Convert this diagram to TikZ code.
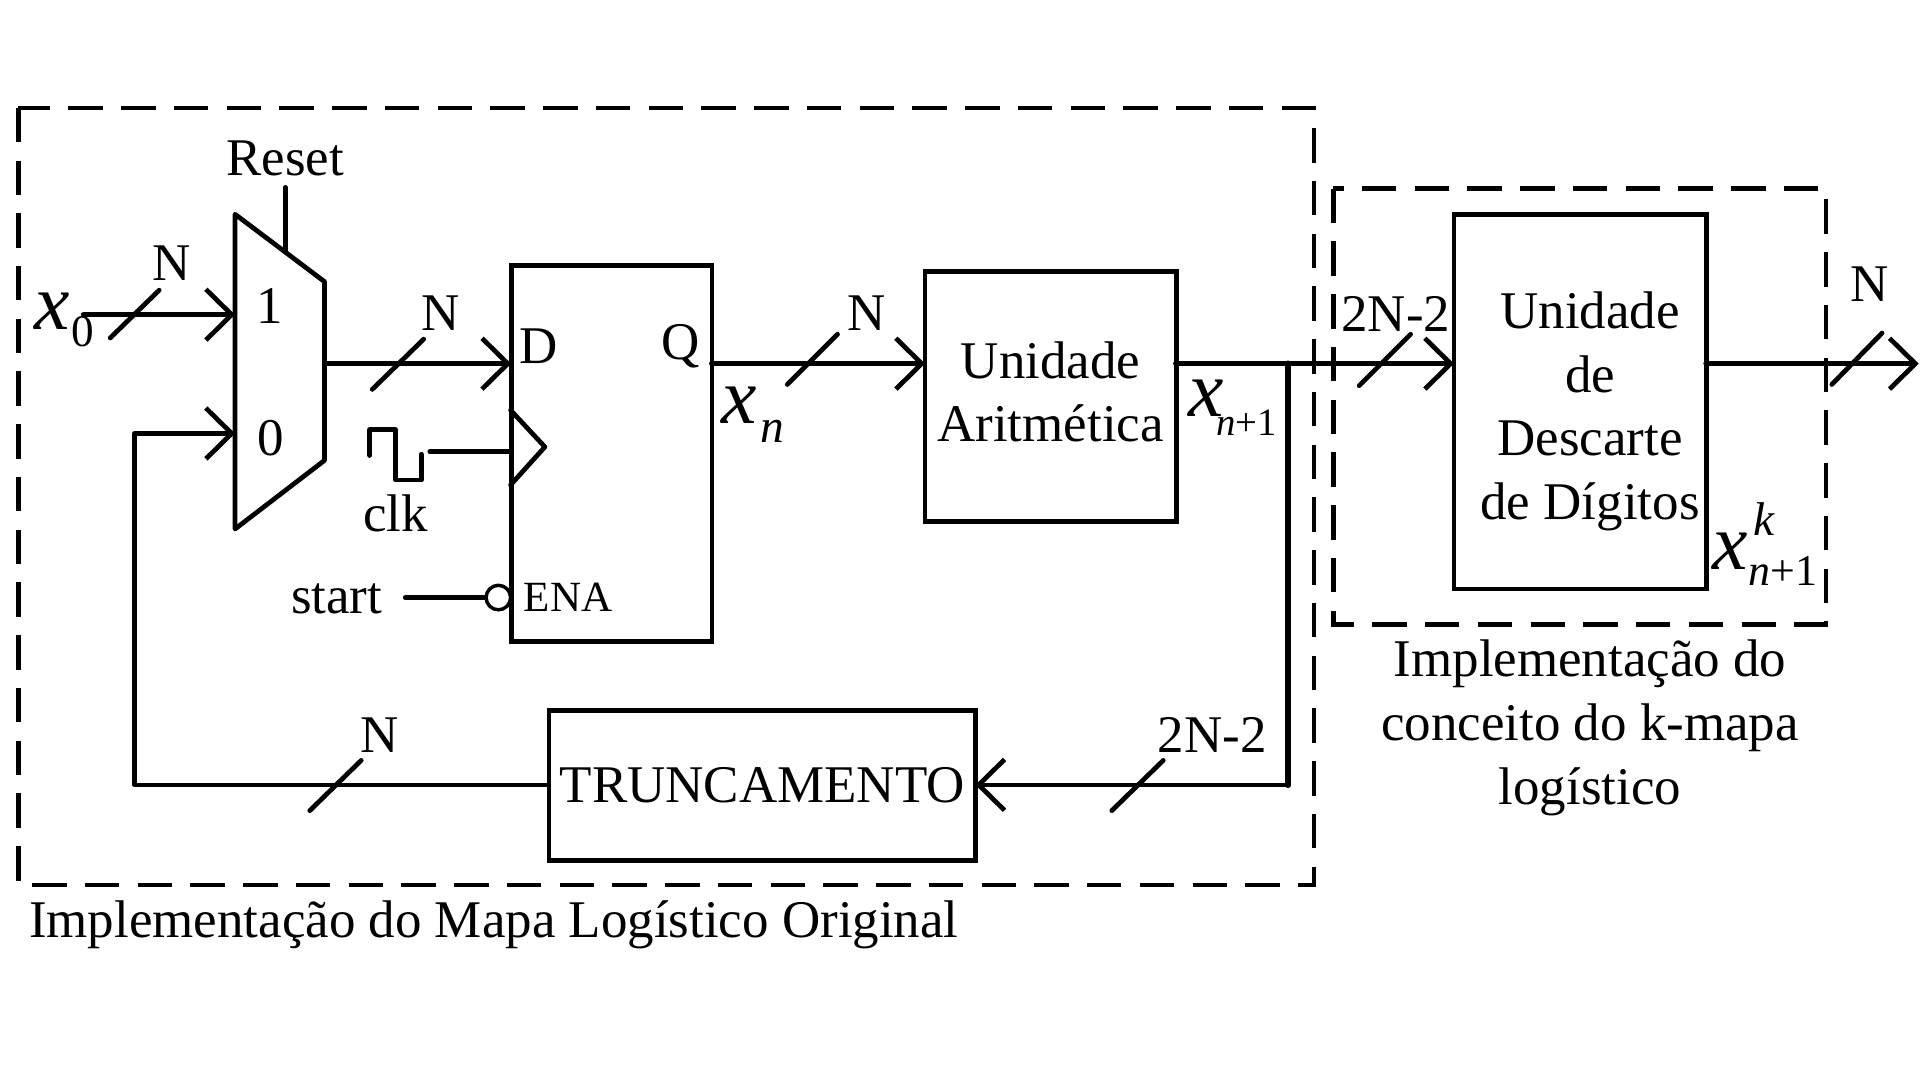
\documentclass[tikz,border=0pt]{standalone}
\usepackage{fontspec}
\setmainfont{Liberation Serif}
\usetikzlibrary{arrows.meta}
\tikzset{
  wire/.style={line width=1.1pt,line cap=round,line join=round},
  bus/.style={wire,-{Straight Barb[length=6pt,width=11.8pt,line width=1.1pt]}},
  frame/.style={line width=1pt,dash pattern=on 8pt off 4.25pt},
  block/.style={draw,line width=1.1pt,inner sep=0pt},
  lbl/.style={inner sep=0pt,font=\fontsize{12.3}{14.8}\selectfont,align=center},
  small/.style={inner sep=0pt,font=\fontsize{10}{12}\selectfont},
  var/.style={inner sep=0pt,font=\fontsize{18.5}{24}\selectfont\itshape},
  idx/.style={inner sep=0pt,font=\fontsize{10.5}{12}\selectfont}
}
\begin{document}
\begin{tikzpicture}[x=0.01cm,y=-0.01cm]
  \useasboundingbox (0,0) rectangle (1568,882);

  % dashed frames
  \draw[frame] (15,88) rectangle (1073,723);
  \draw[frame] (1089,154) rectangle (1491,510);
  \node[lbl,anchor=west] (capa) at (23,755) {Implementação do Mapa Logístico Original};
  \node[lbl] (capb) at (1298.5,594.5) {Implementação do\\conceito do k-mapa\\logístico};

  % blocks
  \node[block,minimum width=1.64cm,minimum height=3.07cm] (ff) at (499.5,370.5) {};
  \node[block,minimum width=2.05cm,minimum height=2.04cm] (ua) at (858,324) {};
  \node[lbl] (uatext) at (858,320) {Unidade\\Aritmética};
  \node[block,minimum width=3.48cm,minimum height=1.23cm] (trunc) at (622.5,641.5) {};
  \node[lbl] (trunctext) at (622.5,641) {TRUNCAMENTO};
  \node[block,minimum width=2.06cm,minimum height=3.06cm] (desc) at (1290.5,328) {};
  \node[lbl] (desctext) at (1298.5,336) {Unidade\\de\\Descarte\\de Dígitos};

  % mux
  \draw[wire] (192,175)--(265,230)--(265,376)--(192,432)--cycle;
  \coordinate (muxrst) at (233,206);
  \coordinate (muxa) at (192,257);
  \coordinate (muxb) at (192,354);
  \coordinate (muxout) at (265,297);
  \node[lbl] (one) at (220,250) {1};
  \node[lbl] (zero) at (221,358) {0};
  \node[lbl] (reset) at (233,129) {Reset};
  \coordinate (rsttop) at (233,153);
  \draw[wire] (rsttop)--(muxrst);

  % flip-flop ports
  \coordinate (ffd) at (417.5,297);
  \coordinate (ffq) at (581,297);
  \coordinate (ffclk) at (417,369);
  \node[lbl] (d) at (440,283) {D};
  \node[lbl] (q) at (556,283) {Q};
  \node[small] (ena) at (464,488) {ENA};
  \draw[wire] (417,335)--(445,365)--(417,396);
  \node[draw,circle,line width=0.8pt,minimum size=0.2cm,inner sep=0pt] (nega) at (407,488) {};

  % clock and start
  \coordinate (clkend) at (351,369);
  \draw[wire] (302,372)--(302,351)--(323,351)--(323,392)--(344,392)--(344,371);
  \draw[wire] (clkend)--(ffclk);
  \node[lbl] (clk) at (323,419) {clk};
  \node[lbl] (start) at (275,489) {start};
  \coordinate (startend) at (331,488);
  \draw[wire] (startend)--(nega.west);

  % input
  \node[var] (x0) at (43,254) {x};
  \node[idx] (x0i) at (68,271) {0};
  \coordinate (x0end) at (68,257);
  \draw[bus] (x0end)--(muxa);
  \draw[wire] (90,276)--(130,237);
  \node[lbl] (n1) at (140,215) {N};

  % forward path
  \draw[bus] (muxout)--(ffd);
  \draw[wire] (304,318)--(346,277);
  \node[lbl] (n2) at (360,256) {N};

  \coordinate (uain) at (755.5,297);
  \draw[bus] (ffq)--(uain);
  \draw[wire] (643,314)--(684,273);
  \node[lbl] (n3) at (708,256) {N};
  \node[var] (xn) at (604,331) {x};
  \node[idx,font=\fontsize{11}{14}\selectfont\itshape] (xni) at (631,352) {n};

  \coordinate (uaout) at (960,297);
  \coordinate (descin) at (1187.5,297);
  \coordinate (split) at (1052,297);
  \draw[bus] (uaout)--(descin);
  \draw[wire] (1110,315)--(1152,273);
  \node[lbl] (n4) at (1140,256) {2N-2};
  \node[var] (xp) at (985,325) {x};
  \node[idx,font=\fontsize{9}{12}\selectfont] (xpi) at (1018,345) {\textit{n}+1};

  % output
  \coordinate (descout) at (1393,297);
  \coordinate (outend) at (1567,297);
  \draw[bus] (descout)--(outend);
  \draw[wire] (1496,314)--(1537,272);
  \node[lbl] (n5) at (1527,232) {N};
  \node[var] (xk) at (1413,450) {x};
  \node[idx,font=\fontsize{11}{14}\selectfont\itshape] (xks) at (1441,424) {k};
  \node[idx,font=\fontsize{10.2}{12}\selectfont] (xki) at (1456,466) {\textit{n}+1};

  % feedback
  \coordinate (corner) at (1052,641);
  \coordinate (truncin) at (796.5,641);
  \coordinate (truncout) at (448,641);
  \coordinate (fbl) at (110,641);
  \coordinate (fbu) at (110,354);
  \draw[wire,line width=1.5pt] (split)--(corner);
  \draw[bus] (corner)--(truncin);
  \draw[wire] (908,662)--(950,621);
  \node[lbl] (n6) at (990,600) {2N-2};
  \draw[bus] (truncout)--(fbl)--(fbu)--(muxb);
  \draw[wire] (253,662)--(295,621);
  \node[lbl] (n7) at (310,600) {N};
\end{tikzpicture}
\end{document}
